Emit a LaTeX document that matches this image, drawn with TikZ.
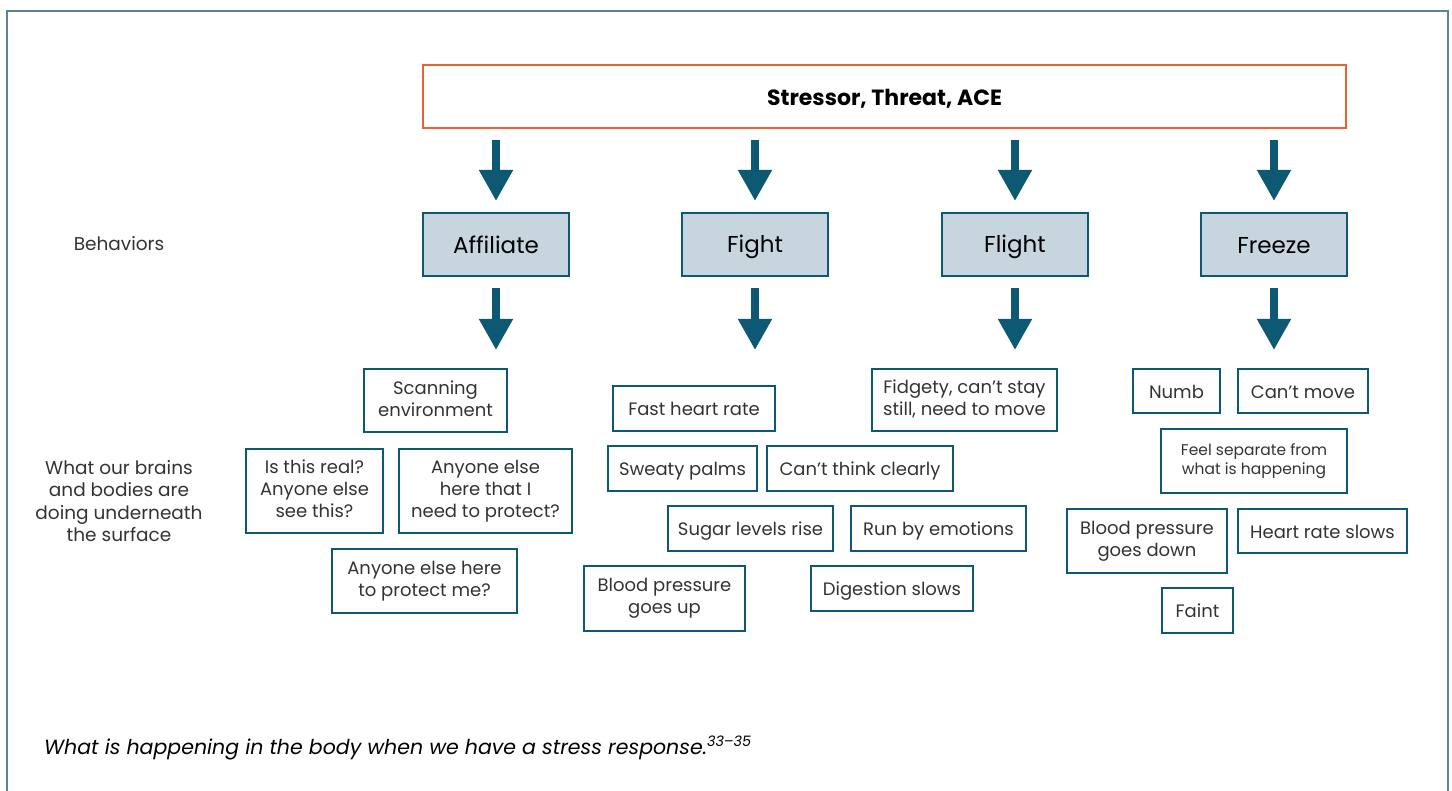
\documentclass[tikz,border=0pt]{standalone}
\usepackage{fontspec}
\setmainfont{Poppins}
\usetikzlibrary{arrows.meta}
\definecolor{orangeedge}{HTML}{E9612D}
\definecolor{tealedge}{HTML}{0D5872}
\definecolor{behfill}{HTML}{C6D5DE}
\definecolor{framecol}{HTML}{5E8297}
\definecolor{txtgrey}{HTML}{333333}
\newcommand\boxstrut{\vrule width 0pt height .83\baselineskip depth .17\baselineskip\relax}
\tikzset{
  strutted/.style={execute at begin node=\boxstrut, execute at end node=\boxstrut},
  detail/.style={draw=tealedge, line width=2pt, fill=white, align=center, inner sep=0pt,
    text=txtgrey, font=\fontsize{18}{22}\selectfont, strutted},
  behav/.style={draw=tealedge, line width=2pt, fill=behfill, align=center, inner sep=0pt,
    text=black, font=\fontsize{23}{26}\selectfont, minimum width=146pt, minimum height=63pt, strutted},
  bigarrow/.style={draw=tealedge, line width=8pt, -{Triangle[width=32pt,length=31pt]}, tealedge},
  sidelabel/.style={align=center, text=txtgrey, font=\fontsize{18.5}{22.5}\selectfont, strutted}
}
\begin{document}
\begin{tikzpicture}[x=1pt,y=-1pt]
\useasboundingbox (0,0) rectangle (1452,791);
\draw[framecol, line width=1.5pt] (7,791) -- (7,11) -- (1448,11) -- (1448,791);

\node[draw=orangeedge, line width=2pt, minimum width=923pt, minimum height=63pt, inner sep=0pt,
  font=\fontsize{22}{26}\selectfont\bfseries, text=black, strutted] (stress) at (884.5,96.5) {Stressor, Threat, ACE};

\node[behav] (aff) at (496,244.5) {Affiliate};
\node[behav] (fight) at (755,244.5) {Fight};
\node[behav] (flight) at (1015,244.5) {Flight};
\node[behav] (freeze) at (1274,244.5) {Freeze};

\node[sidelabel] (behlab) at (119,243) {Behaviors};
\node[sidelabel] (brainlab) at (119,503) {What our brains\\and bodies are\\doing underneath\\the surface};

\foreach \b in {aff,fight,flight,freeze}{
  \draw[bigarrow, shorten <=11pt, shorten >=11pt] (\b.north |- stress.south) -- (\b.north);
}
\coordinate (affend) at (496,350);
\coordinate (fightend) at (755,350);
\coordinate (flightend) at (1015,350);
\coordinate (freezeend) at (1274,350);
\foreach \b in {aff,fight,flight,freeze}{
  \draw[bigarrow, shorten <=11pt] (\b.south) -- (\b end);
}

% Affiliate
\node[detail, minimum width=143pt, minimum height=63pt] (scan) at (435.5,400.5) {Scanning\\environment};
\node[detail, minimum width=137pt, minimum height=84pt] (real) at (314.5,491) {Is this real?\\Anyone else\\see this?};
\node[detail, minimum width=173pt, minimum height=84pt] (protect) at (485.5,491) {Anyone else\\here that I\\need to protect?};
\node[detail, minimum width=185pt, minimum height=64pt] (protectme) at (424.5,581) {Anyone else here\\to protect me?};

% Fight
\node[detail, minimum width=162pt, minimum height=45pt] (fast) at (694,408.5) {Fast heart rate};
\node[detail, minimum width=149pt, minimum height=45pt] (sweaty) at (682.5,468.5) {Sweaty palms};
\node[detail, minimum width=186pt, minimum height=45pt] (think) at (860,468.5) {Can’t think clearly};
\node[detail, minimum width=165pt, minimum height=45pt] (sugar) at (750.5,528.5) {Sugar levels rise};
\node[detail, minimum width=175pt, minimum height=45pt] (emotions) at (938.5,528.5) {Run by emotions};
\node[detail, minimum width=161pt, minimum height=65pt] (bpup) at (664.5,598.5) {Blood pressure\\goes up};
\node[detail, minimum width=162pt, minimum height=45pt] (digest) at (892,588.5) {Digestion slows};

% Flight
\node[detail, minimum width=185pt, minimum height=62pt] (fidgety) at (964.5,400) {Fidgety, can’t stay\\still, need to move};

% Freeze
\node[detail, minimum width=87pt, minimum height=44pt] (numb) at (1176.5,391) {Numb};
\node[detail, minimum width=130pt, minimum height=44pt] (cantmove) at (1303,391) {Can’t move};
\node[detail, minimum width=186pt, minimum height=64pt, font=\fontsize{15.5}{18.5}\selectfont] (separate) at (1254,461) {Feel separate from\\what is happening};
\node[detail, minimum width=160pt, minimum height=64pt] (bpdown) at (1147,541) {Blood pressure\\goes down};
\node[detail, minimum width=169pt, minimum height=44pt] (hrslows) at (1322.5,531) {Heart rate slows};
\node[detail, minimum width=71pt, minimum height=45pt] (faint) at (1197.5,610.5) {Faint};

\node[anchor=west, inner sep=0pt, text=black, font=\fontsize{20.5}{24}\selectfont\itshape] (caption) at (44,748)
  {What is happening in the body when we have a stress response.\textsuperscript{33–35}};
\end{tikzpicture}
\end{document}
